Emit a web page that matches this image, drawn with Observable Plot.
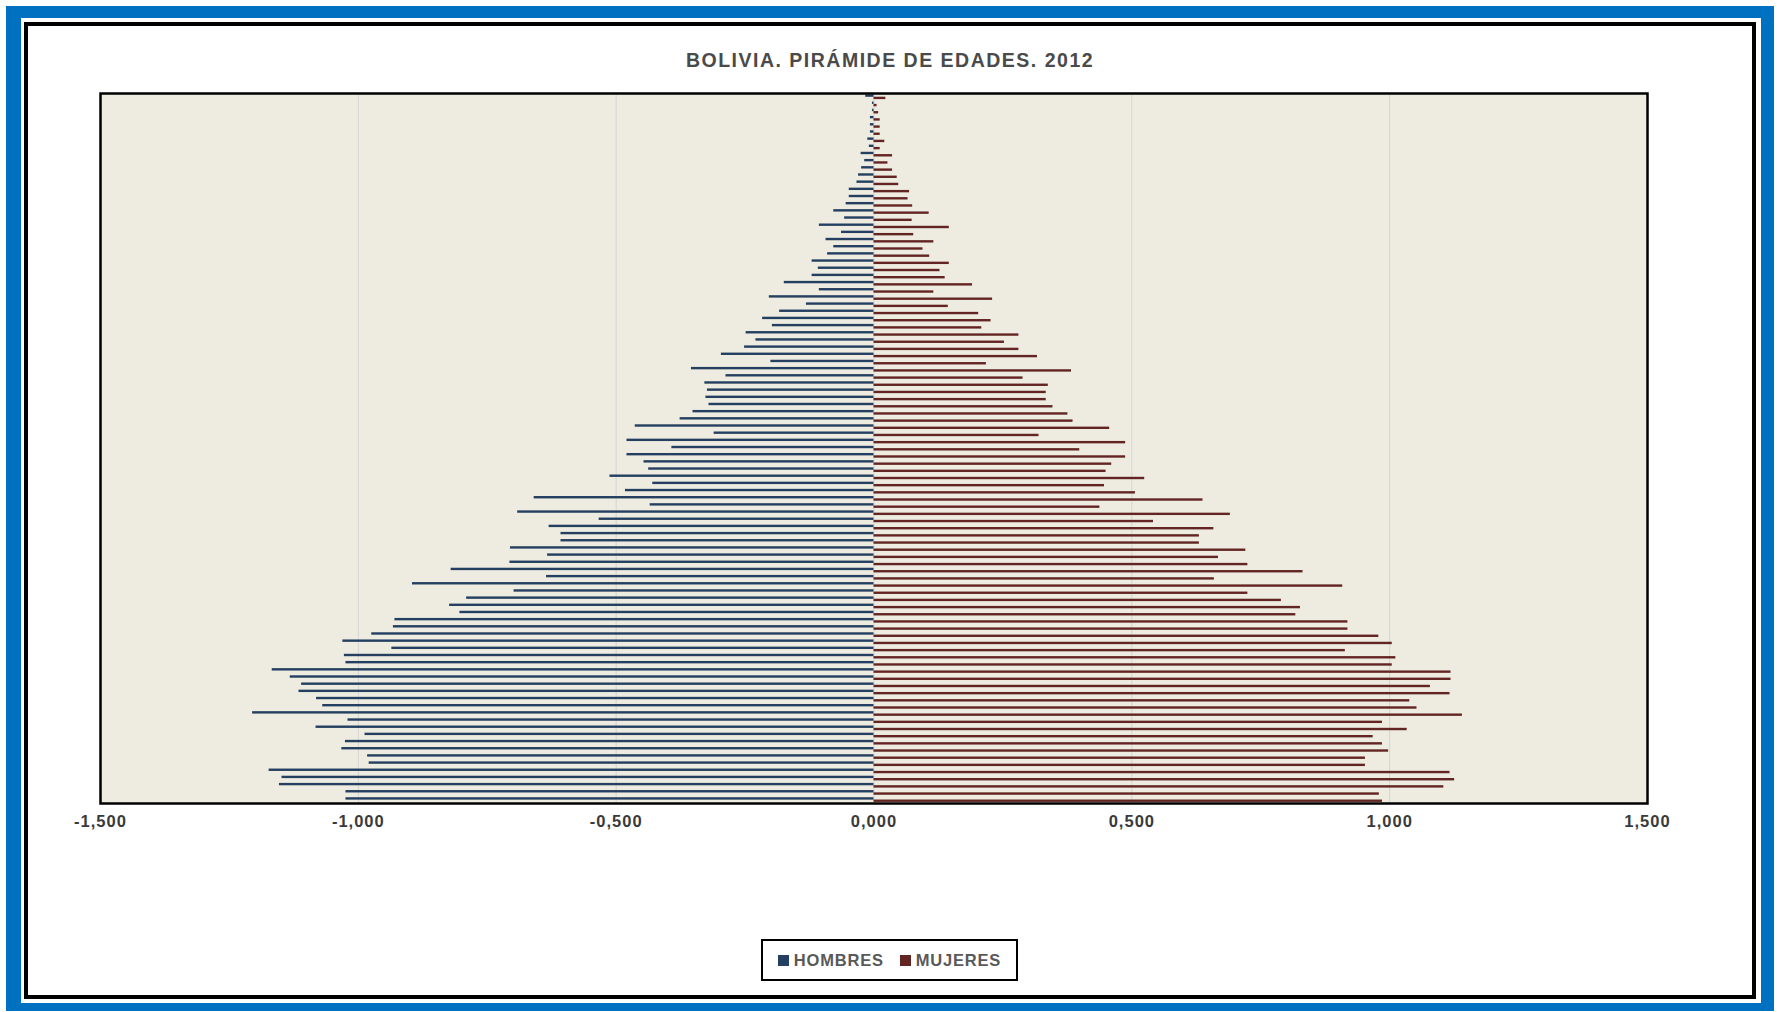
<!DOCTYPE html>
<html>
<head>
<meta charset="utf-8">
<script src="https://cdn.jsdelivr.net/npm/d3@7"></script>
<script src="https://cdn.jsdelivr.net/npm/@observablehq/plot@0.6"></script>
<style>
  html, body { margin: 0; padding: 0; background: #ffffff; }
  #page { position: relative; width: 1779px; height: 1012px; overflow: hidden; background: #ffffff;
          font-family: "Liberation Sans", Arial, sans-serif; }
  #blue { position: absolute; left: 6px; top: 6px; width: 1768px; height: 1005px; box-sizing: border-box;
          border-style: solid; border-color: #0070C0; border-width: 12px 13px 8px 15px; }
  #black { position: absolute; left: 24px; top: 22px; width: 1732px; height: 977px; box-sizing: border-box;
           border: 4px solid #000000; }
  #title { position: absolute; left: 24px; width: 1732px; top: 50px; line-height: 20px; text-align: center;
           font-size: 19.5px; font-weight: bold; color: #4a4a4a; letter-spacing: 1.5px; }
  #chart { position: absolute; left: 28px; top: 26px; }
  #legend { position: absolute; left: 761px; top: 939px; width: 257px; height: 42px; box-sizing: border-box;
            border: 2px solid #000000; background: #ffffff; display: flex; align-items: center; justify-content: center;
            font-size: 16.5px; font-weight: bold; color: #595959; letter-spacing: 0.8px; }
  .item { display: flex; align-items: center; margin: 0 8px; }
  .sw { width: 11px; height: 11px; margin-right: 5px; }
</style>
</head>
<body>
<div id="page">
  <div id="blue"></div>
  <div id="black"></div>
  <div id="title">BOLIVIA. PIRÁMIDE DE EDADES. 2012</div>
  <div id="chart"></div>
  <div id="legend"></div>
</div>
<script>
// Age categories, top (oldest) to bottom (youngest)
const ages = ["98+","97","96","95","94","93","92","91","90","89","88","87","86","85","84","83","82","81","80","79",
  "78","77","76","75","74","73","72","71","70","69","68","67","66","65","64","63","62","61","60","59",
  "58","57","56","55","54","53","52","51","50","49","48","47","46","45","44","43","42","41","40","39",
  "38","37","36","35","34","33","32","31","30","29","28","27","26","25","24","23","22","21","20","19",
  "18","17","16","15","14","13","12","11","10","9","8","7","6","5","4","3","2","1","0"];

// Percent of population, men (drawn to the left), same order as ages
const hombres = [0.016,0.003,0.003,0.007,0.007,0.007,0.012,0.009,0.025,0.018,
  0.024,0.030,0.033,0.048,0.048,0.054,0.078,0.057,0.106,0.063,
  0.093,0.078,0.090,0.120,0.108,0.120,0.174,0.106,0.203,0.131,
  0.183,0.216,0.197,0.248,0.229,0.251,0.296,0.200,0.354,0.287,
  0.328,0.323,0.326,0.320,0.351,0.376,0.463,0.310,0.479,0.392,
  0.479,0.446,0.437,0.512,0.429,0.482,0.659,0.434,0.691,0.533,
  0.630,0.607,0.607,0.705,0.633,0.706,0.820,0.635,0.895,0.698,
  0.790,0.823,0.803,0.929,0.932,0.974,1.030,0.935,1.027,1.024,
  1.167,1.132,1.110,1.115,1.081,1.069,1.205,1.020,1.082,0.987,
  1.025,1.032,0.982,0.979,1.173,1.148,1.153,1.024,1.024];

// Percent of population, women (drawn to the right)
const mujeres = [0.023,0.006,0.009,0.012,0.012,0.012,0.021,0.012,0.036,0.027,
  0.036,0.045,0.048,0.069,0.066,0.075,0.107,0.074,0.146,0.077,
  0.116,0.095,0.108,0.146,0.128,0.138,0.191,0.116,0.230,0.144,
  0.203,0.227,0.209,0.281,0.253,0.281,0.317,0.218,0.383,0.289,
  0.338,0.334,0.334,0.347,0.376,0.386,0.457,0.320,0.488,0.399,
  0.488,0.461,0.450,0.525,0.447,0.507,0.638,0.438,0.691,0.542,
  0.659,0.631,0.631,0.721,0.668,0.725,0.832,0.660,0.909,0.725,
  0.790,0.827,0.818,0.919,0.919,0.979,1.005,0.914,1.012,1.005,
  1.119,1.119,1.079,1.117,1.039,1.053,1.141,0.986,1.034,0.968,
  0.986,0.998,0.953,0.953,1.117,1.126,1.105,0.980,0.986];

const xTicks = [-1.5, -1.0, -0.5, 0, 0.5, 1.0, 1.5];
const seriesNames = ["HOMBRES", "MUJERES"];
const seriesColors = ["#243F60", "#632523"];

const data = ages.map((age, i) => ({age, h: -hombres[i], m: mujeres[i]}));
const fmt = d => (d < 0 ? "-" : "") + Math.abs(d).toFixed(3).replace(".", ",");

const W = 1724, H = 860, mT = 67, mB = 83;
const band = (H - mT - mB) / ages.length;

const chart = Plot.plot({
  width: W,
  height: H,
  marginLeft: 72,
  marginRight: 105,
  marginTop: mT,
  marginBottom: mB,
  style: {background: "transparent", color: "#3a3a3a", fontFamily: "'Liberation Sans', Arial, sans-serif",
          fontSize: "16.5px", fontWeight: "bold", letterSpacing: "1px"},
  x: {domain: [-1.5, 1.5], ticks: xTicks, tickFormat: fmt, tickSize: 0, tickPadding: 12, label: null},
  y: {domain: ages, axis: null, padding: 0, round: false},
  marks: [
    Plot.frame({fill: "#EEECE1", stroke: "none"}),
    Plot.ruleX(xTicks, {stroke: "#D4D4D4", strokeWidth: 1}),
    Plot.barX(data, {x: "h", y: "age", fill: seriesColors[0], insetTop: 1.4, insetBottom: band - 3.8}),
    Plot.barX(data, {x: "m", y: "age", fill: seriesColors[1], insetTop: 3.7, insetBottom: band - 6.1}),
    Plot.frame({stroke: "#000000", strokeWidth: 2.5})
  ]
});
document.getElementById("chart").appendChild(chart);

const legend = document.getElementById("legend");
seriesNames.forEach((name, i) => {
  const item = document.createElement("div");
  item.className = "item";
  const sw = document.createElement("div");
  sw.className = "sw";
  sw.style.background = seriesColors[i];
  const t = document.createElement("span");
  t.textContent = name;
  item.appendChild(sw);
  item.appendChild(t);
  legend.appendChild(item);
});
</script>
</body>
</html>
